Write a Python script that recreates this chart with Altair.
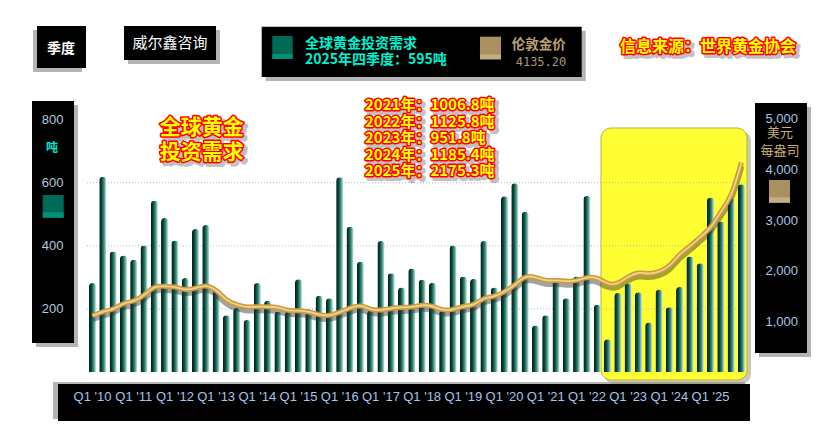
import altair as alt
import pandas as pd

# ---------------- data ----------------
years = list(range(2010, 2026))
quarters = [f"Q{q} '{str(y)[2:]}" for y in years for q in range(1, 5)]
q1_labels = [f"Q1 '{str(y)[2:]}" for y in years]

# Global gold investment demand, tonnes (quarterly)
demand_t = [
    282, 619, 382, 369,   # 2010
    356, 401, 543, 488,   # 2011
    417, 298, 453, 466,   # 2012
    257, 180, 203, 165,   # 2013
    282, 226, 192, 192,   # 2014
    294, 199, 242, 234,   # 2015
    617, 460, 349, 195,   # 2016
    415, 313, 268, 328,   # 2017
    292, 283, 195, 401,   # 2018
    303, 295, 415, 268,   # 2019
    557, 598, 508, 147,   # 2020
    180, 290, 234, 303,   # 2021
    558, 213, 104, 250,   # 2022
    280, 253, 157, 261,   # 2023
    205, 269, 366, 345,   # 2024
    553, 477, 550, 595,   # 2025
]

# London gold price, USD/oz (quarterly average)
gold_price = [
    1109, 1197, 1227, 1367,
    1386, 1506, 1702, 1688,
    1691, 1609, 1652, 1722,
    1632, 1400, 1326, 1272,
    1293, 1288, 1282, 1201,
    1218, 1192, 1124, 1105,
    1183, 1260, 1335, 1222,
    1219, 1257, 1278, 1275,
    1329, 1306, 1213, 1226,
    1304, 1310, 1472, 1481,
    1583, 1711, 1909, 1874,
    1794, 1816, 1789, 1795,
    1877, 1871, 1729, 1726,
    1890, 1976, 1929, 1971,
    2070, 2338, 2474, 2663,
    2830, 3170, 3430, 4135.2,
]

annual_lines = [
    "2021年：1006.8吨",
    "2022年：1125.8吨",
    "2023年：951.8吨",
    "2024年：1185.4吨",
    "2025年：2175.3吨",
]
latest_demand_text = "2025年四季度：595吨"
latest_price_text = "4135.20"
left_ticks = [200, 400, 600, 800]
right_ticks = [1000, 2000, 3000, 4000, 5000]
grid_vals = [200, 400, 600]

df = pd.DataFrame({"q": quarters, "demand": demand_t, "price": gold_price})
grid_df = pd.DataFrame({"v": grid_vals})
one = pd.DataFrame({"d": [0]})

# ---------------- layout ----------------
W, H = 662, 272
Y_MAX = 862
P_MAX = 5369
CJK = "Noto Sans CJK SC"
LAT = "Liberation Sans"


def box(x, x2, y, y2, fill, radius=0, stroke=None, opacity=1.0):
    kw = dict(fill=fill, cornerRadius=radius, opacity=opacity)
    if stroke:
        kw.update(stroke=stroke, strokeWidth=1)
    return alt.Chart(one).mark_rect(**kw).encode(
        x=alt.value(x), x2=alt.value(x2), y=alt.value(y), y2=alt.value(y2)
    )


def shadowed_box(x, x2, y, y2, fill="#000000", dx=4, dy=4):
    return [
        box(x + dx, x2 + dx, y + dy, y2 + dy, "#777777", opacity=0.55),
        box(x, x2, y, y2, fill),
    ]


def txt(s, x, y, size, color, weight="normal", font=CJK, align="left",
        stroke=None, sw=0, dx=0, dy=0, opacity=1.0):
    kw = dict(text=s, fontSize=size, fill=color, fontWeight=weight, font=font,
              align=align, baseline="middle", dx=dx, dy=dy, opacity=opacity)
    if stroke:
        kw.update(stroke=stroke, strokeWidth=sw, strokeJoin="round")
    return alt.Chart(one).mark_text(**kw).encode(x=alt.value(x), y=alt.value(y))


def outlined(s, x, y, size, align="left"):
    return [
        txt(s, x, y, size, "#777777", "bold", align=align, stroke="#777777",
            sw=4, dx=3, dy=3, opacity=0.45),
        txt(s, x, y, size, "#FF0000", "bold", align=align, stroke="#FF0000", sw=3),
        txt(s, x, y, size, "#FFFF00", "bold", align=align),
    ]


layers = []

# header boxes
layers += shadowed_box(-49, 0, -74, -32, dx=-4, dy=4)
layers += shadowed_box(38, 130, -74, -40)
layers += shadowed_box(175.7, 495.7, -73.3, -23)
# side panels
layers += shadowed_box(-54, -12, 1, 243)
layers += shadowed_box(669, 721, 3, 253)
layers += shadowed_box(-28, 664, 284, 321, dx=-5, dy=-2)

# swatches
layers += [
    box(186.3, 206.7, -64, -41, "#006a58"),
    box(186.3, 206.7, -46, -41, "#009078"),
    box(394, 415, -63.3, -40.7, "#a89060"),
    box(394, 415, -45.5, -40.7, "#c4ae84"),
    box(-43.3, -22.3, 95, 117.7, "#006a58"),
    box(-43.3, -22.3, 112.3, 117.7, "#009078"),
    box(683, 704, 80, 102.7, "#a89060"),
    box(683, 704, 97.3, 102.7, "#c4ae84"),
]

# yellow highlight
layers += [
    box(518, 665, 31, 284, "#8a8a60", radius=10, opacity=0.45),
    box(515, 661, 28, 280, "#FFFF33", radius=10, stroke="#B8B040"),
]

# gridlines
grid = alt.Chart(grid_df).mark_rule(color="#b8b8b8", strokeDash=[1, 2], strokeWidth=1).encode(
    y=alt.Y("v:Q", scale=alt.Scale(domain=[0, Y_MAX], nice=False), axis=None)
)
layers.append(grid)

x_enc = alt.X(
    "q:N", sort=quarters,
    scale=alt.Scale(paddingInner=0.3, paddingOuter=0.285),
    axis=alt.Axis(values=q1_labels, title=None, labelAngle=0, labelColor="#a4c6ee",
                  labelFont=LAT, labelFontSize=13, labelPadding=18, ticks=False,
                  domain=False, grid=False, labelOverlap=False, zindex=2),
)

bar_grad = alt.Gradient(
    gradient="linear",
    stops=[
        alt.GradientStop(color="#001a14", offset=0),
        alt.GradientStop(color="#0a4a3e", offset=0.35),
        alt.GradientStop(color="#3f8f7e", offset=0.65),
        alt.GradientStop(color="#a9d6cb", offset=0.9),
        alt.GradientStop(color="#d0ebe4", offset=1),
    ],
    x1=0, x2=1, y1=0, y2=0,
)

bars = alt.Chart(df).mark_bar(color=bar_grad, cornerRadiusTopLeft=3.5,
                              cornerRadiusTopRight=3.5).encode(
    x=x_enc,
    y=alt.Y("demand:Q", scale=alt.Scale(domain=[0, Y_MAX], nice=False),
            axis=alt.Axis(orient="left", values=left_ticks, title=None,
                          labelColor="#b4c8de", labelFont=LAT, labelFontSize=13,
                          labelPadding=23, ticks=False, domain=False, grid=False,
                          zindex=2)),
)
layers.append(bars)

price_scale = alt.Scale(domain=[0, P_MAX], nice=False)
line_shadow = alt.Chart(df).transform_calculate(ps="datum.price - 70").mark_line(
    color="#303030", strokeWidth=6, opacity=0.45, interpolate="basis"
).encode(x=x_enc, y=alt.Y("ps:Q", scale=price_scale, axis=None))
line_main = alt.Chart(df).mark_line(
    color="#C99A40", strokeWidth=5, interpolate="basis"
).encode(
    x=x_enc,
    y=alt.Y("price:Q", scale=price_scale,
            axis=alt.Axis(orient="right", values=right_ticks, format=",.0f", title=None,
                          labelColor="#a8c4e6", labelFont=LAT, labelFontSize=13,
                          labelPadding=17, ticks=False, domain=False, grid=False,
                          zindex=2)),
)
line_hi = alt.Chart(df).mark_line(
    color="#F2D18A", strokeWidth=1.8, interpolate="basis"
).encode(x=x_enc, y=alt.Y("price:Q", scale=price_scale, axis=None))
layers += [line_shadow, line_main, line_hi]

# texts
layers += [
    txt("季度", -25, -51, 14, "#FFFFFF", "bold", align="center"),
    txt("威尔鑫咨询", 84, -57, 15, "#FFFFFF", align="center"),
    txt("全球黄金投资需求", 219, -56.5, 14, "#00F0D0", "bold"),
    txt(latest_demand_text, 219, -40, 14, "#00F0D0", "bold"),
    txt("伦敦金价", 425.7, -55, 13.5, "#b8a070", "bold"),
    txt(latest_price_text, 429.7, -38.3, 12, "#a89878", font="DejaVu Sans Mono"),
    txt("吨", -34, 48.3, 12, "#00E8D0", "bold", align="center"),
    txt("美元", 694, 33.3, 13, "#c8b078", align="center"),
    txt("每盎司", 694, 51, 13, "#c8b078", align="center"),
]
layers += outlined("信息来源：世界黄金协会", 622, -52.7, 16, align="center")
layers += outlined("全球黄金", 115.7, 28.3, 21, align="center")
layers += outlined("投资需求", 115.7, 53.3, 21, align="center")
for i, s in enumerate(annual_lines):
    layers += outlined(s, 279, 5 + 16.5 * i, 15)

chart = alt.layer(*layers).resolve_scale(y="independent").properties(
    width=W, height=H,
    padding={"left": 78, "top": 92, "right": 74, "bottom": 64},
    autosize=alt.AutoSizeParams(type="none"),
    background="#FFFFFF",
).configure_view(strokeWidth=0)

chart.save("out.html", embed_options={"renderer": "svg", "actions": False})
